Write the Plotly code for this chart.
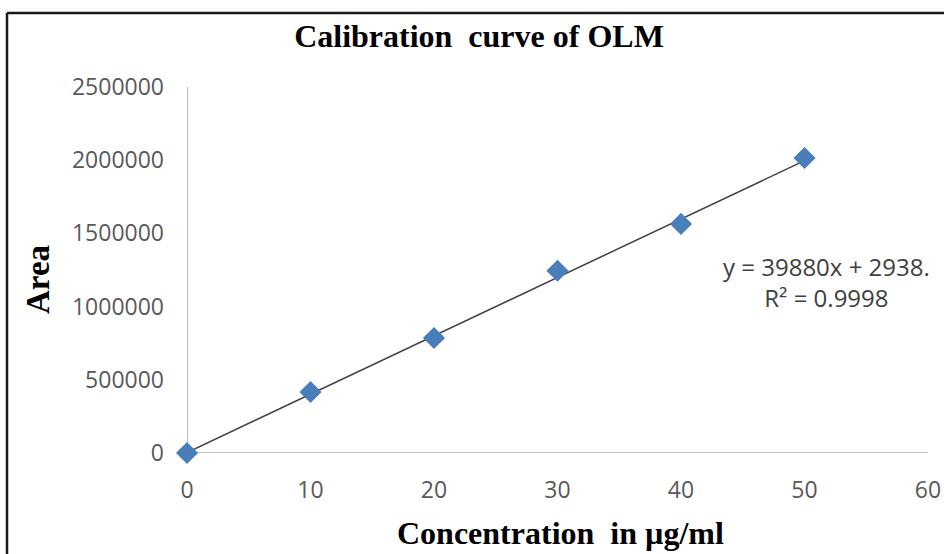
import plotly.graph_objects as go

concentration = [0, 10, 20, 30, 40, 50]
area = [0, 417000, 786000, 1245000, 1565000, 2015000]
slope = 39880
intercept = 2938
equation_text = "y = 39880x + 2938.<br>R² = 0.9998"
x_ticks = [0, 10, 20, 30, 40, 50, 60]
y_ticks = [0, 500000, 1000000, 1500000, 2000000, 2500000]

trend_x = [concentration[0], concentration[-1]]
trend_y = [slope * v + intercept for v in trend_x]

fig = go.Figure()
fig.add_trace(go.Scatter(x=trend_x, y=trend_y, mode="lines", cliponaxis=False,
                         line=dict(color="#404040", width=1.5), hoverinfo="skip"))
fig.add_trace(go.Scatter(x=concentration, y=area, mode="markers", cliponaxis=False,
                         marker=dict(symbol="diamond", size=17, color="#4A7EBB",
                                     line=dict(width=0))))

W, H = 944, 554
L, R, T, B = 187, 16, 87, 101
pw, ph = W - L - R, H - T - B
def px(xp):
    return (xp - L) / pw
def py(yp):
    return (H - B - yp) / ph

serif_bold = dict(family="Liberation Serif", color="black", weight="bold")

fig.update_layout(
    width=W, height=H,
    margin=dict(l=L, r=R, t=T, b=B, autoexpand=False),
    paper_bgcolor="white", plot_bgcolor="white",
    showlegend=False,
    title=dict(text="Calibration  curve of OLM", x=479 / W, xanchor="center",
               y=1 - 36 / H, yanchor="middle",
               font=dict(size=32, **serif_bold)),
    xaxis=dict(range=[0, 60], tickvals=x_ticks, showgrid=False, zeroline=False,
               showline=False, ticks="", automargin=False, ticklabelstandoff=21,
               tickfont=dict(family="Open Sans", size=23, color="#595959")),
    yaxis=dict(range=[0, 2500000], tickvals=y_ticks, showgrid=False, zeroline=False,
               showline=False, ticks="", tickformat="d", automargin=False,
               ticklabelstandoff=22,
               tickfont=dict(family="Open Sans", size=23, color="#595959")),
    shapes=[
        dict(type="line", xref="x", yref="paper", x0=0, x1=0, y0=0, y1=1,
             line=dict(color="#A6A6A6", width=1.5), layer="below"),
        dict(type="line", xref="paper", yref="y", x0=0, x1=1, y0=0, y1=0,
             line=dict(color="#BFBFBF", width=2), layer="below"),
        dict(type="line", xref="paper", yref="paper", x0=px(7), x1=px(960), y0=py(13), y1=py(13),
             line=dict(color="#1a1a1a", width=2.5)),
        dict(type="line", xref="paper", yref="paper", x0=px(7), x1=px(7), y0=py(13), y1=py(570),
             line=dict(color="#1a1a1a", width=2.5)),
    ],
    annotations=[
        dict(text=equation_text, xref="paper", yref="paper", x=px(826), y=py(282),
             xanchor="center", yanchor="middle", showarrow=False, align="center",
             font=dict(family="Open Sans", size=24, color="#404040")),
        dict(text="Concentration  in µg/ml", xref="paper", yref="paper",
             x=px(560), y=py(533), xanchor="center", yanchor="middle", showarrow=False,
             font=dict(size=32, **serif_bold)),
        dict(text="Area", xref="paper", yref="paper", textangle=-90,
             x=px(38), y=py(280), xanchor="center", yanchor="middle", showarrow=False,
             font=dict(size=33, **serif_bold)),
    ],
)

fig.write_html("out.html")
